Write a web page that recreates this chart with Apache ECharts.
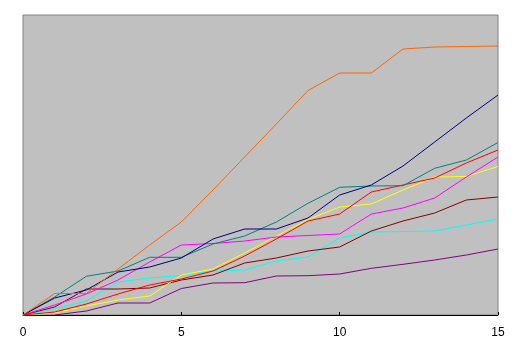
<!DOCTYPE html>
<html>
<head>
<meta charset="utf-8">
<script src="https://cdn.jsdelivr.net/npm/echarts@6/dist/echarts.min.js"></script>
<style>
html,body{margin:0;padding:0;background:#fff;}
#c{width:521px;height:358px;}
</style>
</head>
<body>
<div id="c"></div>
<script>
var xs = [0,1,2,3,4,5,6,7,8,9,10,11,12,13,14,15];
var xTicks = [0,5,10,15];
var orange  = [0,21.5,21.5,46,70,93,125,158,191,224.5,242,242,266,268,268.5,269];
var navy    = [0,17,25,43,48,57,76,86,86,97,120,130,149,173,197,220];
var teal    = [0,18,38.7,44,57.7,57.7,71,79,93,111.7,127.7,129,129.3,146.7,155,172.5];
var red     = [0,3,11,21,30,36,44,59,76,94,101,123,130,137,152,165];
var magenta = [0,10,21,35,53,70,71.5,74,78,79.5,81,101,107,117,138,158];
var yellow  = [0,2,9,15,19,40,46,62,79,95.5,108,111,125,138,138.5,148.5];
var maroon  = [0,8,26,26,27,35,40,52,57,64,68,84,94,102,115,118];
var cyan    = [0,6,14,33,37,39.5,44,45,54,58,77,83,83.5,84,90,96];
var purple  = [null,0,4,12,12,26.5,32,32.3,39,39.3,41,46.7,50.7,55,60,66];

var seriesDefs = [
  {name:'purple', data:purple, color:'#800080'},
  {name:'cyan', data:cyan, color:'#00FFFF'},
  {name:'maroon', data:maroon, color:'#800000'},
  {name:'yellow', data:yellow, color:'#FFFF00'},
  {name:'magenta', data:magenta, color:'#FF00FF'},
  {name:'red', data:red, color:'#FF0000'},
  {name:'teal', data:teal, color:'#008080'},
  {name:'navy', data:navy, color:'#000080'},
  {name:'orange', data:orange, color:'#FF6600'}
];

function pairs(arr){
  var out = [];
  for (var i=0;i<xs.length;i++){ if(arr[i]!==null) out.push([xs[i], arr[i]]); }
  return out;
}

var chart = echarts.init(document.getElementById('c'), null, {renderer:'canvas'});
chart.setOption({
  animation:false,
  backgroundColor:'#ffffff',
  grid:{left:23, top:15, width:475, height:300, show:true, backgroundColor:'#C0C0C0', borderColor:'#808080', borderWidth:1},
  xAxis:{type:'value', min:xTicks[0], max:xTicks[xTicks.length-1], interval:5, z:3,
    axisLine:{show:true, lineStyle:{color:'#000', width:1}},
    axisTick:{show:true, inside:true, length:3, lineStyle:{color:'#000'}},
    axisLabel:{color:'#000', fontSize:12, fontFamily:'Liberation Sans, Arial, sans-serif', margin:12},
    splitLine:{show:false}},
  yAxis:{type:'value', min:0, max:300, show:false, splitLine:{show:false}},
  series: seriesDefs.map(function(s){
    return {type:'line', name:s.name, data:pairs(s.data), showSymbol:false, symbol:'none',
      lineStyle:{color:s.color, width:1}, itemStyle:{color:s.color}, connectNulls:false};
  })
});
</script>
</body>
</html>
